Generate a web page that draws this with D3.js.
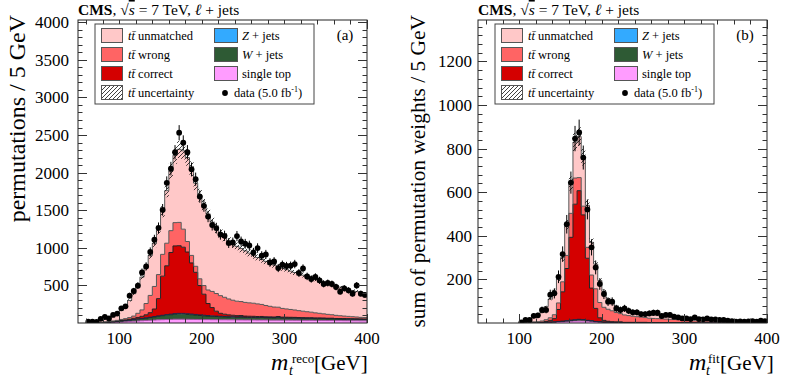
<!DOCTYPE html>
<html><head><meta charset="utf-8">
<script src="https://cdn.jsdelivr.net/npm/d3@7"></script>
<style>
body{margin:0;background:#fff}
text{font-family:"Liberation Serif","Times New Roman","DejaVu Serif",serif;fill:#000}
</style>
</head><body>
<svg id="c" width="789" height="378" xmlns="http://www.w3.org/2000/svg"></svg>
<script>
// ---------- data (bin lower edges, 5 GeV bins) ----------
const binLow = [60,65,70,75,80,85,90,95,100,105,110,115,120,125,130,135,140,145,150,155,160,165,170,175,180,185,190,195,200,205,210,215,220,225,230,235,240,245,250,255,260,265,270,275,280,285,290,295,300,305,310,315,320,325,330,335,340,345,350,355,360,365,370,375,380,385,390,395];

// panel (a): m_t^reco, permutations / 5 GeV
const dataA = [18,18,15,55,80,60,107,125,195,222,364,426,497,673,753,944,1107,1266,1505,1864,2053,2271,2531,2398,2271,2045,1913,1682,1558,1416,1302,1262,1177,1160,1063,1071,1156,1084,1054,1031,938,997,895,912,806,819,731,775,758,762,784,665,726,620,585,612,567,519,532,519,479,417,461,434,390,500,390,373];
const singleTopA = [0,0,1,2,3,5,8,10,14,17,20,24,27,30,33,36,39,42,44,46,48,50,50,50,49,48,47,46,45,45,44,44,43,43,42,42,41,41,40,40,40,39,39,39,38,38,38,37,37,37,36,36,35,35,35,34,34,34,33,33,32,32,31,31,30,30,29,29];
const wjetsA = [0,1,2,3,5,6,8,10,12,14,17,20,24,28,32,37,42,47,53,58,62,66,68,68,65,62,58,54,50,47,44,42,40,38,37,36,35,38,34,33,33,32,34,31,31,30,32,29,29,28,28,27,27,26,26,25,25,24,23,23,22,21,21,20,20,19,19,18];
const zjetsA = [0,0,0,0,1,1,1,1,2,2,2,3,3,3,4,4,5,5,6,7,8,9,10,10,10,9,9,8,8,7,7,6,6,6,5,5,5,5,5,5,5,5,4,4,4,4,8,4,4,4,4,3,3,3,3,3,3,3,3,3,2,2,2,2,2,2,2,2];
const correctA = [0,0,0,1,1,2,3,4,6,8,11,15,20,28,40,60,100,230,520,650,820,900,900,880,820,680,560,390,280,160,110,65,40,30,24,20,17,15,13,12,11,10,10,9,9,8,8,8,7,7,7,6,6,6,6,5,5,5,5,5,4,4,4,4,4,4,3,3];
const wrongA = [0,0,1,2,3,5,7,10,13,17,22,30,55,85,150,230,300,320,290,300,290,310,310,240,140,100,80,90,115,180,215,235,235,225,212,200,192,186,182,178,174,168,160,150,140,132,124,116,110,104,98,92,86,80,74,68,62,56,51,46,42,38,34,31,28,25,22,20];
const unmatchedA = [12,17,21,32,47,56,73,90,123,157,228,298,361,436,481,533,574,596,567,699,792,895,972,1042,1116,1151,1106,1112,1072,1011,920,868,826,798,770,747,730,705,686,662,637,618,598,587,573,560,540,536,523,510,499,490,479,468,457,449,431,421,411,400,392,381,370,359,348,337,327,316];

// panel (b): m_t^fit, sum of permutation weights / 5 GeV
const dataB = [null,null,null,null,null,null,null,null,3,14,14,33,35,60,60,130,136,212,316,453,644,846,874,759,521,347,255,179,133,98,98,67,60,67,56,49,49,41,41,44,47,47,32,37,37,29,26,21,21,18,26,18,17,21,17,17,14,14,11,9,6,7,6,7,9,6,11,9];
const singleTopB = [0,0,0,0,0,0,0,0,1,1,1,2,2,2,3,3,4,5,6,7,8,9,9,9,8,7,5,4,3,3,2,2,2,1,1,1,1,1,1,1,1,1,1,1,1,1,1,1,1,0,0,0,0,0,0,0,0,0,0,0,0,0,0,0,0,0,0,0];
const wjetsB = [0,0,0,0,0,0,0,0,0,0,0,0,0,0,0,1,1,2,2,3,4,5,7,6,4,3,2,2,1,1,1,1,1,1,1,1,1,1,1,0,0,0,0,0,0,0,0,0,0,0,0,0,0,0,0,0,0,0,0,0,0,0,0,0,0,0,0,0];
const zjetsB = [0,0,0,0,0,0,0,0,0,0,0,0,0,0,0,0,0,0,0,0,1,1,1,1,0,0,0,0,0,0,0,0,0,0,0,0,0,0,0,0,0,0,0,0,0,0,0,0,0,0,0,0,0,0,0,0,0,0,0,0,0,0,0,0,0,0,0,0];
const correctB = [0,0,0,0,0,0,0,0,0,0,0,1,1,2,4,8,15,55,135,240,380,530,590,480,285,150,60,18,8,4,3,2,2,1,1,1,1,1,1,0,0,0,0,0,0,0,0,0,0,0,0,0,0,0,0,0,0,0,0,0,0,0,0,0,0,0,0,0];
const wrongB = [0,0,0,0,0,0,0,0,0,1,1,2,3,5,8,12,18,30,46,60,110,120,60,40,50,60,90,70,60,55,50,43,38,34,31,28,26,24,22,21,20,19,18,17,16,15,14,13,12,11,10,10,9,9,8,8,7,7,6,6,5,5,5,4,4,4,4,4];
const unmatchedB = [0,0,0,0,0,0,0,0,3,8,14,20,29,39,60,86,112,108,111,140,137,165,188,224,193,150,113,101,73,49,36,30,25,24,21,19,17,16,15,16,15,14,13,12,11,10,9,8,7,8,8,7,7,6,6,5,5,4,4,3,4,3,3,3,3,2,2,2];

const ttRelUnc = 0.05;       // relative tt uncertainty band (read)
const dataErrScale = 2.0;    // data error bar size relative to sqrt(N)
const xTickLabels = [100,200,300,400];
const yTickLabelsA = [500,1000,1500,2000,2500,3000,3500,4000];
const yTickLabelsB = [200,400,600,800,1000,1200];

const colors = {unmatched:"#ffc8c8", wrong:"#ff6464", correct:"#d40000", zjets:"#33aaff", wjets:"#2e5a34", singleTop:"#ff9cff"};
const strokes = {unmatched:"#555", wrong:"#555", correct:"#222", zjets:"#224", wjets:"#1a301c", singleTop:"#a050a0"};

const svg = d3.select("#c");
const defs = svg.append("defs");
const pat = defs.append("pattern").attr("id","hatch").attr("patternUnits","userSpaceOnUse").attr("width",4).attr("height",4);
pat.append("path").attr("d","M-1,1 l2,-2 M0,4 l4,-4 M3,5 l2,-2").attr("stroke","#111").attr("stroke-width",0.8);

function ttbar(sel){
  sel.append("tspan").attr("font-style","italic").text("t");
  sel.append("tspan").attr("font-style","italic").text("t\u0304");
}

function panel(cfg){
  const g = svg.append("g");
  const top = 20, bot = 323;
  const x = d3.scaleLinear().domain([50,400]).range([cfg.x0,cfg.x1]);
  const y = d3.scaleLinear().domain([0,cfg.ymax]).range([bot,top]);
  const clipId = "clip"+cfg.id;
  defs.append("clipPath").attr("id",clipId).append("rect").attr("x",cfg.x0).attr("y",top).attr("width",cfg.x1-cfg.x0).attr("height",bot-top);
  const pg = g.append("g").attr("clip-path",`url(#${clipId})`);

  const keys = ["singleTop","wjets","zjets","correct","wrong","unmatched"];
  const rows = binLow.map((b,i)=>({b, singleTop:cfg.st[i], wjets:cfg.w[i], zjets:cfg.z[i], correct:cfg.c[i], wrong:cfg.wr[i], unmatched:cfg.u[i]}));
  const stacked = d3.stack().keys(keys)(rows);
  const area = d3.area().curve(d3.curveStepAfter).x(d=>x(d.x)).y0(d=>y(d.y0)).y1(d=>y(d.y1));
  const line = d3.line().curve(d3.curveStepAfter).x(d=>x(d.x)).y(d=>y(d.y));
  const start = cfg.start;
  stacked.forEach(s=>{
    const pts = s.slice(start).map(d=>({x:d.data.b, y0:d[0], y1:d[1]}));
    const last = pts[pts.length-1];
    pts.push({x:last.x+5, y0:last.y0, y1:last.y1});
    pg.append("path").attr("d",area(pts)).attr("fill",colors[s.key]).attr("stroke","none");
  });
  stacked.forEach(s=>{
    const pts = s.slice(start).map(d=>({x:d.data.b, y:d[1]}));
    const last = pts[pts.length-1];
    pts.unshift({x:pts[0].x, y:0});
    pts.push({x:last.x+5, y:last.y});
    pg.append("path").attr("d",line(pts)).attr("fill","none").attr("stroke",strokes[s.key]).attr("stroke-width",1);
  });
  // uncertainty band
  const tot = stacked[stacked.length-1];
  const band = tot.slice(start).map(d=>({x:d.data.b, y0:d[1]*(1-ttRelUnc), y1:d[1]*(1+ttRelUnc)}));
  band.push({x:band[band.length-1].x+5, y0:band[band.length-1].y0, y1:band[band.length-1].y1});
  pg.append("path").attr("d",area(band)).attr("fill","url(#hatch)").attr("stroke","none");

  // data
  const dg = pg.append("g");
  binLow.forEach((b,i)=>{
    const v = cfg.data[i];
    if(v===null || v===undefined) return;
    const cx = x(b+2.5), e = dataErrScale*Math.sqrt(v);
    dg.append("line").attr("x1",cx).attr("x2",cx).attr("y1",y(v+e)).attr("y2",y(Math.max(0,v-e))).attr("stroke","#000").attr("stroke-width",1);
    dg.append("circle").attr("cx",cx).attr("cy",y(v)).attr("r",2.9).attr("fill","#000");
  });

  // frame
  g.append("rect").attr("x",cfg.x0).attr("y",top).attr("width",cfg.x1-cfg.x0).attr("height",bot-top).attr("fill","none").attr("stroke","#222").attr("stroke-width",1);
  const tg = g.append("g").attr("stroke","#333").attr("stroke-width",1);
  d3.range(60,401,20).forEach(v=>{
    const major = v%100===0, L = major?9:4.5, px = Math.round(x(v))+0.5;
    tg.append("line").attr("x1",px).attr("x2",px).attr("y1",bot).attr("y2",bot-L);
    tg.append("line").attr("x1",px).attr("x2",px).attr("y1",top).attr("y2",top+L);
  });
  d3.range(cfg.minor, cfg.ymax, cfg.minor).forEach(v=>{
    const major = Math.abs(v/cfg.major - Math.round(v/cfg.major))<1e-6, L = major?9:4.5, py = Math.round(y(v))+0.5;
    tg.append("line").attr("x1",cfg.x0).attr("x2",cfg.x0+L).attr("y1",py).attr("y2",py);
    tg.append("line").attr("x1",cfg.x1).attr("x2",cfg.x1-L).attr("y1",py).attr("y2",py);
  });
  xTickLabels.forEach(v=>{
    g.append("text").attr("x",x(v)).attr("y",344).attr("text-anchor","middle").attr("font-size",17).text(v);
  });
  cfg.yLabels.forEach(v=>{
    g.append("text").attr("x",cfg.x0-cfg.ylabGap).attr("y",y(v)+6).attr("text-anchor","end").attr("font-size",17).text(v);
  });
  // axis titles
  g.append("text").attr("transform",`translate(${cfg.ytx},15) rotate(-90)`).attr("text-anchor","end").attr("font-size",cfg.ytSize).text(cfg.ytitle);
  const xt = g.append("g");
  xt.append("text").attr("x",cfg.mx).attr("y",370).attr("font-size",24).attr("font-style","italic").text("m");
  xt.append("text").attr("x",cfg.tx).attr("y",375).attr("font-size",14).attr("font-style","italic").text("t");
  xt.append("text").attr("x",cfg.supx).attr("y",363).attr("font-size",13).text(cfg.sup);
  xt.append("text").attr("x",cfg.gevx).attr("y",370).attr("font-size",21).text("[GeV]");

  // title
  const tt = g.append("text").attr("x",cfg.x0).attr("y",15).attr("font-size",15.5);
  tt.append("tspan").attr("font-weight","bold").text("CMS");
  tt.append("tspan").text(", \u221A");
  tt.append("tspan").attr("font-style","italic").style("text-decoration","overline").text("s");
  tt.append("tspan").text("  = 7 TeV, ");
  tt.append("tspan").attr("font-style","italic").text("\u2113");
  tt.append("tspan").text(" + jets");

  g.append("text").attr("x",cfg.x1-22).attr("y",40).attr("text-anchor","middle").attr("font-size",15).text(cfg.tag);

  // legend
  const lx = cfg.x0+17, ly = 24;
  const lg = g.append("g");
  lg.append("rect").attr("x",lx).attr("y",ly).attr("width",219).attr("height",80).attr("fill","#fff").attr("stroke","#444").attr("stroke-width",1);
  const rowsY = [36,55,74,93];
  const col1 = [["unmatched","unmatched"],["wrong","wrong"],["correct","correct"],["hatch","uncertainty"]];
  const col2 = [["zjets","Z"],["wjets","W"],["singleTop","single top"],["data","data"]];
  col1.forEach((e,i)=>{
    const cy = rowsY[i];
    lg.append("rect").attr("x",lx+6.5).attr("y",cy-7.5).attr("width",21).attr("height",14)
      .attr("fill", e[0]==="hatch" ? "url(#hatch)" : colors[e[0]]).attr("stroke","#555").attr("stroke-width",1);
    const t = lg.append("text").attr("x",lx+33).attr("y",cy+4).attr("font-size",12.5);
    ttbar(t);
    t.append("tspan").text(" "+e[1]);
  });
  col2.forEach((e,i)=>{
    const cy = rowsY[i];
    if(e[0]==="data"){
      lg.append("circle").attr("cx",lx+130).attr("cy",cy).attr("r",2.9).attr("fill","#000");
      const t = lg.append("text").attr("x",lx+139).attr("y",cy+4).attr("font-size",12.5);
      t.append("tspan").text("data (5.0 fb");
      t.append("tspan").attr("font-size",8).attr("dy",-5).text("-1");
      t.append("tspan").attr("dy",5).text(")");
      return;
    }
    lg.append("rect").attr("x",lx+119.5).attr("y",cy-7.5).attr("width",23).attr("height",14)
      .attr("fill",colors[e[0]]).attr("stroke","#555").attr("stroke-width",1);
    const t = lg.append("text").attr("x",lx+147).attr("y",cy+4).attr("font-size",12.5);
    if(e[0]==="singleTop"){ t.text("single top"); }
    else { t.append("tspan").attr("font-style","italic").text(e[1]); t.append("tspan").text(" + jets"); }
  });
}

panel({id:"a", x0:78, x1:367, ymax:4030, major:500, minor:100, start:0,
  data:dataA, st:singleTopA, w:wjetsA, z:zjetsA, c:correctA, wr:wrongA, u:unmatchedA,
  yLabels:yTickLabelsA, ylabGap:9, ytx:25, ytSize:24, ytitle:"permutations / 5 GeV",
  mx:271, tx:289, supx:292, gevx:314, sup:"reco", tag:"(a)"});
panel({id:"b", x0:478, x1:767, ymax:1390, major:200, minor:40, start:8,
  data:dataB, st:singleTopB, w:wjetsB, z:zjetsB, c:correctB, wr:wrongB, u:unmatchedB,
  yLabels:yTickLabelsB, ylabGap:6, ytx:425, ytSize:21.4, ytitle:"sum of permutation weights / 5 GeV",
  mx:689, tx:706, supx:708, gevx:720, sup:"fit", tag:"(b)"});
</script>
</body></html>
